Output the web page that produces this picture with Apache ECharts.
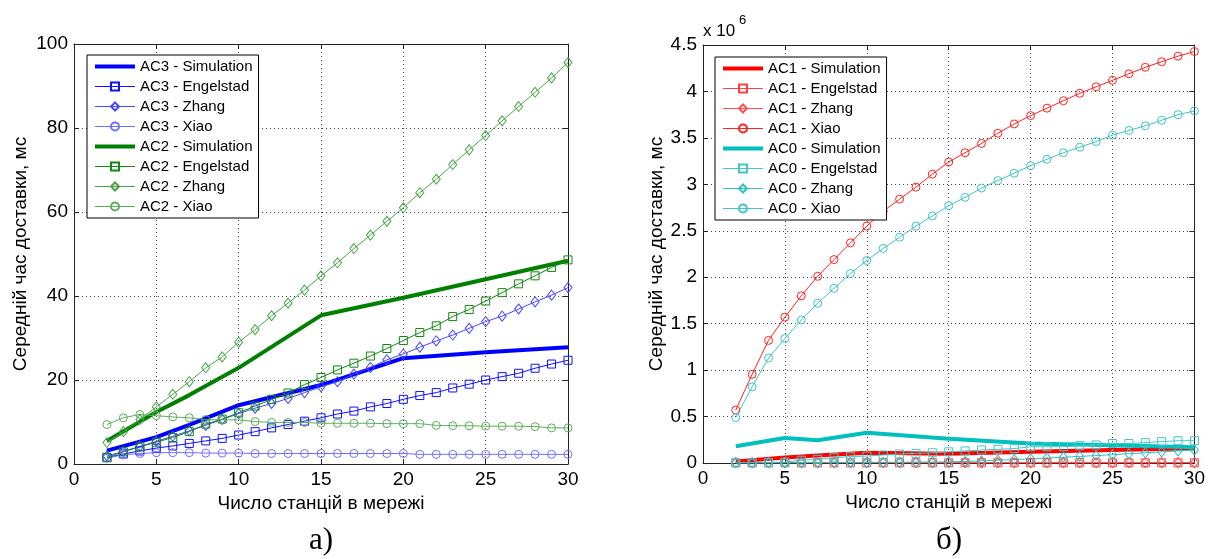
<!DOCTYPE html>
<html><head><meta charset="utf-8">
<script src="https://cdn.jsdelivr.net/npm/echarts@6/dist/echarts.min.js"></script>
<style>html,body{margin:0;padding:0;background:#fff}#c{width:1208px;height:559px}</style>
</head><body><div id="c"></div>
<script>
// ---- data ----
const modelX = [2,3,4,5,6,7,8,9,10,11,12,13,14,15,16,17,18,19,20,21,22,23,24,25,26,27,28,29,30];
const simX = [2,5,7,10,15,20,25,30];
const xTicks = [0,5,10,15,20,25,30];

// left panel (ms)
const ac3Sim   = [3.2, 6.4, 9.3, 14.0, 18.8, 25.2, 26.6, 27.8];
const ac3Eng   = [1.5,2.4,3.1,3.8,4.3,4.9,5.5,6.1,6.9,7.7,8.6,9.4,10.2,11.0,11.9,12.6,13.6,14.4,15.4,16.3,17.0,18.1,19.0,20.0,20.8,21.6,22.8,23.8,24.7];
const ac3Zhang = [1.9,3.0,4.2,5.4,6.6,7.9,9.2,10.6,12.0,13.3,14.4,15.6,17.0,18.4,19.6,21.4,23.0,24.8,26.2,27.8,29.3,30.7,32.3,33.9,35.2,36.9,38.6,40.2,42.0];
const ac3Xiao  = [1.4,2.2,2.5,2.7,2.7,2.7,2.6,2.6,2.6,2.5,2.5,2.5,2.5,2.5,2.5,2.5,2.5,2.5,2.5,2.3,2.3,2.3,2.3,2.3,2.3,2.3,2.3,2.3,2.3];
const ac2Sim   = [5.5, 12.4, 16.4, 22.9, 35.4, 39.6, 44.0, 48.4];
const ac2Eng   = [1.6,2.9,4.1,5.2,6.3,7.7,9.5,10.7,12.2,13.8,15.4,16.9,18.9,20.6,22.4,24.0,25.7,27.5,29.4,31.3,32.9,35.1,36.8,38.8,40.8,42.9,44.8,46.8,48.6];
const ac2Zhang = [5.1,7.7,10.6,13.6,16.6,19.6,22.9,25.5,29.0,32.0,35.3,38.3,41.4,44.8,47.9,51.3,54.5,57.8,61.0,64.6,67.8,71.3,74.8,78.2,81.7,85.1,88.5,91.9,95.6];
const ac2Xiao  = [9.4,11.0,11.8,11.5,11.2,11.0,10.6,10.5,10.5,10.1,9.9,9.9,9.9,9.7,9.7,9.7,9.7,9.6,9.6,9.6,9.2,9.1,9.1,9.0,9.0,9.0,8.9,8.6,8.6];

// right panel (x 10^6 ms)
const ac1Sim   = [0.015, 0.06, 0.08, 0.11, 0.10, 0.12, 0.14, 0.16];
const ac1Eng   = [0.002,0.002,0.002,0.002,0.002,0.002,0.002,0.002,0.002,0.002,0.002,0.002,0.002,0.002,0.002,0.002,0.002,0.002,0.002,0.002,0.002,0.002,0.002,0.002,0.002,0.002,0.002,0.002,0.002];
const ac1Zhang = [0.004,0.004,0.004,0.004,0.004,0.004,0.004,0.004,0.004,0.004,0.004,0.004,0.004,0.004,0.004,0.004,0.004,0.004,0.004,0.004,0.004,0.004,0.004,0.004,0.004,0.004,0.004,0.004,0.004];
const ac1Xiao  = [0.57,0.955,1.32,1.57,1.80,2.01,2.19,2.37,2.55,2.71,2.84,2.97,3.11,3.24,3.34,3.44,3.55,3.65,3.74,3.82,3.90,3.98,4.05,4.12,4.19,4.26,4.32,4.38,4.43];
const ac0Sim   = [0.18, 0.27, 0.245, 0.325, 0.26, 0.21, 0.19, 0.17];
const ac0Eng   = [0.003,0.003,0.004,0.01,0.03,0.04,0.057,0.068,0.075,0.086,0.097,0.104,0.11,0.12,0.13,0.14,0.147,0.155,0.175,0.175,0.175,0.186,0.194,0.21,0.21,0.22,0.23,0.24,0.24];
const ac0Zhang = [0.002,0.002,0.003,0.003,0.004,0.004,0.005,0.006,0.006,0.007,0.008,0.009,0.010,0.012,0.017,0.023,0.03,0.037,0.045,0.053,0.062,0.071,0.08,0.09,0.1,0.11,0.12,0.13,0.14];
const ac0Xiao  = [0.49,0.82,1.13,1.34,1.54,1.72,1.88,2.04,2.18,2.31,2.43,2.55,2.66,2.77,2.86,2.96,3.04,3.12,3.20,3.27,3.34,3.40,3.46,3.53,3.58,3.63,3.69,3.75,3.79];

const leftNames = ['AC3 - Simulation','AC3 - Engelstad','AC3 - Zhang','AC3 - Xiao','AC2 - Simulation','AC2 - Engelstad','AC2 - Zhang','AC2 - Xiao'];
const rightNames = ['AC1 - Simulation','AC1 - Engelstad','AC1 - Zhang','AC1 - Xiao','AC0 - Simulation','AC0 - Engelstad','AC0 - Zhang','AC0 - Xiao'];
const yName = 'Середній час доставки, мс';
const xName = 'Число станцій в мережі';

// ---- chart ----
const FONT = 'Liberation Sans, Arial, sans-serif';
function pairs(xs, ys){ return xs.map((x,i)=>[x, ys[i]]); }
function sim(name, ys, color, g){
  return {type:'line', name, xAxisIndex:g, yAxisIndex:g, data:pairs(simX, ys), symbol:'none',
    lineStyle:{color, width:4}, itemStyle:{color}, z:2, animation:false};
}
function model(name, ys, color, sym, size, g){
  return {type:'line', name, xAxisIndex:g, yAxisIndex:g, data:pairs(modelX, ys), symbol:sym, symbolSize:size,
    lineStyle:{color, width:1}, itemStyle:{color:'rgba(0,0,0,0)', borderColor:color, borderWidth:1}, z:3, animation:false};
}
const SQ = 'rect', DI = 'diamond', CI = 'circle';
const series = [
  sim(leftNames[0], ac3Sim, '#0000ff', 0),
  model(leftNames[1], ac3Eng, '#1010ff', SQ, 8, 0),
  model(leftNames[2], ac3Zhang, '#4848ff', DI, [8,10], 0),
  model(leftNames[3], ac3Xiao, '#7070ff', CI, 8, 0),
  sim(leftNames[4], ac2Sim, '#008000', 0),
  model(leftNames[5], ac2Eng, '#108a10', SQ, 8, 0),
  model(leftNames[6], ac2Zhang, '#48a448', DI, [8,10], 0),
  model(leftNames[7], ac2Xiao, '#5cae5c', CI, 8, 0),
  sim(rightNames[0], ac1Sim, '#ff0000', 2),
  model(rightNames[1], ac1Eng, '#ff4040', SQ, 8, 2),
  model(rightNames[2], ac1Zhang, '#ff5050', DI, [8,10], 2),
  model(rightNames[3], ac1Xiao, '#ff2020', CI, 8, 2),
  sim(rightNames[4], ac0Sim, '#00bfbf', 2),
  model(rightNames[5], ac0Eng, '#40c8c8', SQ, 8, 2),
  model(rightNames[6], ac0Zhang, '#30c0c0', DI, [8,10], 2),
  model(rightNames[7], ac0Xiao, '#40c4c4', CI, 8, 2)
];
const gridLine = {show:true, lineStyle:{color:'#444', type:[1,3], width:1}};
const axLine = {show:true, onZero:false, lineStyle:{color:'#222', width:1}};
const tick = {show:true, inside:true, length:5, lineStyle:{color:'#222'}};
const lab = {fontSize:19, fontFamily:FONT, color:'#000'};
function xA(g, pos, main){
  return {type:'value', gridIndex:g, position:pos, min:0, max:30, interval:5,
    axisLine:axLine, axisTick:tick, splitLine: main?gridLine:{show:false},
    axisLabel: main?Object.assign({margin:6}, lab):{show:false},
    name: main?xName:'', nameLocation:'middle', nameGap:26, nameTextStyle:{fontSize:19, fontFamily:FONT, color:'#000'}};
}
function yA(g, pos, main, max, interval, gap){
  return {type:'value', gridIndex:g, position:pos, min:0, max, interval,
    axisLine:axLine, axisTick:tick, splitLine: main?gridLine:{show:false},
    axisLabel: main?Object.assign({margin:6}, lab):{show:false},
    name: main?yName:'', nameLocation:'middle', nameGap:gap, nameTextStyle:{fontSize:19, fontFamily:FONT, color:'#000'}};
}
function legendData(names){
  return names.map(n => n.indexOf('Simulation') >= 0
    ? {name:n, itemStyle:{opacity:0}, lineStyle:{width:4}}
    : {name:n, lineStyle:{width:1}});
}
const legendBase = {orient:'vertical', itemWidth:40, itemHeight:10, itemGap:5, selectedMode:false,
  textStyle:{fontSize:15, fontFamily:FONT, color:'#000', lineHeight:15},
  lineStyle:{width:1},
  borderColor:'#000', borderWidth:1, padding:[4,6,4,6], backgroundColor:'#fff', z:10};
const option = {
  backgroundColor:'#fff',
  animation:false,
  grid:[{left:74, top:44, width:494, height:420}, {left:703, top:45, width:494, height:418}],
  xAxis:[xA(0,'bottom',true), xA(0,'top',false), xA(1,'bottom',true), xA(1,'top',false)],
  yAxis:[yA(0,'left',true,100,20,44), yA(0,'right',false,100,20,0), yA(1,'left',true,4.5,0.5,28), yA(1,'right',false,4.5,0.5,0)],
  legend:[Object.assign({data:legendData(leftNames), left:87, top:55}, legendBase), Object.assign({data:legendData(rightNames), left:715, top:57}, legendBase)],
  graphic:[
    {type:'text', left:703, top:23, style:{text:'x 10', fontSize:17, fontFamily:FONT, fill:'#000'}},
    {type:'text', left:739, top:14, style:{text:'6', fontSize:13, fontFamily:FONT, fill:'#000'}},
    {type:'text', left:309, top:525, style:{text:'а)', fontSize:31, fontFamily:'Liberation Serif, Times New Roman, serif', fill:'#000'}},
    {type:'text', left:936, top:525, style:{text:'б)', fontSize:31, fontFamily:'Liberation Serif, Times New Roman, serif', fill:'#000'}}
  ],
  series
};
const chart = echarts.init(document.getElementById('c'), null, {renderer:'canvas'});
chart.setOption(option);
</script>
</body></html>
